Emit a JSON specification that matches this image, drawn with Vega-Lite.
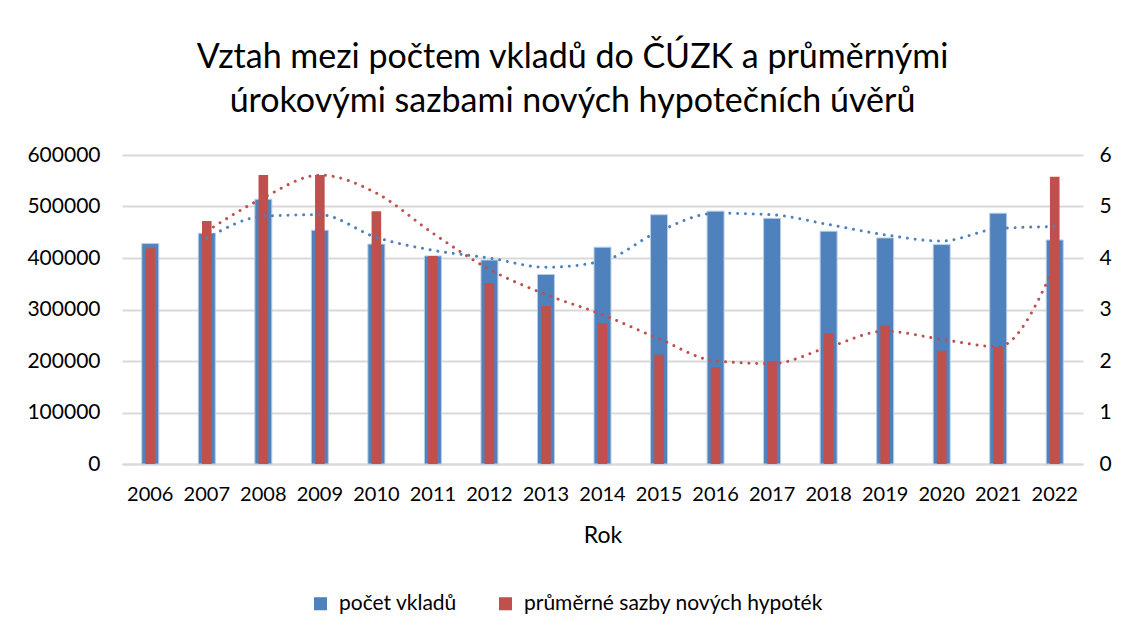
{
  "$schema": "https://vega.github.io/schema/vega-lite/v6.json",
  "width": 961,
  "height": 309,
  "autosize": {"type": "none"},
  "padding": {"left": 122, "top": 155, "right": 38, "bottom": 174},
  "background": "white",
  "config": {
    "font": "Lato",
    "view": {"stroke": null},
    "axis": {"labelFont": "Lato", "titleFont": "Lato", "labelColor": "#000000", "titleColor": "#000000"}
  },
  "title": {
    "text": ["Vztah mezi počtem vkladů do ČÚZK a průměrnými", "úrokovými sazbami nových hypotečních úvěrů"],
    "font": "Lato",
    "fontSize": 34,
    "fontWeight": "normal",
    "color": "#000000",
    "anchor": "middle",
    "dx": -30,
    "lineHeight": 44,
    "offset": 25
  },
  "data": {
    "values": [
      {"rok": "2006", "vklady": 428000, "sazby": 4.19, "tv": null, "ts": null},
      {"rok": "2007", "vklady": 448000, "sazby": 4.72, "tv": 438000, "ts": 4.52},
      {"rok": "2008", "vklady": 514000, "sazby": 5.61, "tv": 481000, "ts": 5.17},
      {"rok": "2009", "vklady": 454000, "sazby": 5.61, "tv": 484000, "ts": 5.61},
      {"rok": "2010", "vklady": 427000, "sazby": 4.91, "tv": 440000, "ts": 5.26},
      {"rok": "2011", "vklady": 404000, "sazby": 4.04, "tv": 415000, "ts": 4.48},
      {"rok": "2012", "vklady": 396000, "sazby": 3.51, "tv": 400000, "ts": 3.78},
      {"rok": "2013", "vklady": 368000, "sazby": 3.07, "tv": 382000, "ts": 3.29},
      {"rok": "2014", "vklady": 421000, "sazby": 2.73, "tv": 394000, "ts": 2.9},
      {"rok": "2015", "vklady": 484000, "sazby": 2.12, "tv": 452000, "ts": 2.43},
      {"rok": "2016", "vklady": 491000, "sazby": 1.88, "tv": 487000, "ts": 2.0},
      {"rok": "2017", "vklady": 477000, "sazby": 2.0, "tv": 484000, "ts": 1.95},
      {"rok": "2018", "vklady": 452000, "sazby": 2.54, "tv": 465000, "ts": 2.27},
      {"rok": "2019", "vklady": 439000, "sazby": 2.69, "tv": 445000, "ts": 2.58},
      {"rok": "2020", "vklady": 426000, "sazby": 2.2, "tv": 433000, "ts": 2.42},
      {"rok": "2021", "vklady": 487000, "sazby": 2.27, "tv": 457000, "ts": 2.28},
      {"rok": "2022", "vklady": 435000, "sazby": 5.58, "tv": 461000, "ts": 3.85}
    ]
  },
  "encoding": {
    "x": {
      "field": "rok",
      "type": "nominal",
      "sort": null,
      "scale": {"paddingInner": 0, "paddingOuter": 0},
      "axis": {
        "title": "Rok",
        "titleFontSize": 23,
        "titleFontWeight": "normal",
        "titlePadding": 20,
        "labelFontSize": 20,
        "labelAngle": 0,
        "labelPadding": 20,
        "ticks": false,
        "domainColor": "#D9D9D9",
        "domainWidth": 2,
        "grid": false
      }
    }
  },
  "layer": [
    {
      "mark": {"type": "bar", "width": {"band": 0.3}, "stroke": "#B9CDE5", "strokeWidth": 1},
      "encoding": {
        "y": {
          "field": "vklady",
          "type": "quantitative",
          "scale": {"domain": [0, 600000], "nice": false},
          "axis": {
            "title": null,
            "orient": "left",
            "values": [0, 100000, 200000, 300000, 400000, 500000, 600000],
            "format": "d",
            "labelFontSize": 21,
            "labelPadding": 22,
            "ticks": false,
            "domain": false,
            "grid": true,
            "gridColor": "#D9D9D9",
            "gridWidth": 2
          }
        },
        "color": {
          "datum": "počet vkladů",
          "type": "nominal",
          "scale": {"domain": ["počet vkladů", "průměrné sazby nových hypoték"], "range": ["#4F81BD", "#C0504D"]},
          "legend": {
            "title": null,
            "orient": "none",
            "legendX": 188,
            "legendY": 438,
            "direction": "horizontal",
            "labelFontSize": 21,
            "labelFont": "Lato",
            "labelColor": "#000000",
            "labelLimit": 0,
            "symbolType": "square",
            "symbolSize": 170,
            "symbolStrokeWidth": 0,
            "columnPadding": 38,
            "labelOffset": 8
          }
        }
      }
    },
    {
      "mark": {"type": "bar", "width": {"band": 0.17}},
      "encoding": {
        "y": {
          "field": "sazby",
          "type": "quantitative",
          "scale": {"domain": [0, 6], "nice": false},
          "axis": {
            "title": null,
            "orient": "right",
            "values": [0, 1, 2, 3, 4, 5, 6],
            "labelFontSize": 21,
            "labelPadding": 16,
            "ticks": false,
            "domain": false,
            "grid": false
          }
        },
        "color": {"datum": "průměrné sazby nových hypoték", "type": "nominal"}
      }
    },
    {
      "mark": {"type": "line", "color": "#4F81BD", "strokeWidth": 3, "strokeCap": "round", "strokeDash": [0.01, 7.8], "interpolate": "monotone"},
      "encoding": {
        "y": {"field": "tv", "type": "quantitative", "scale": {"domain": [0, 600000], "nice": false}, "axis": null}
      }
    },
    {
      "mark": {"type": "line", "color": "#C0504D", "strokeWidth": 3, "strokeCap": "round", "strokeDash": [0.01, 7.8], "interpolate": "monotone"},
      "encoding": {
        "y": {"field": "ts", "type": "quantitative", "scale": {"domain": [0, 6], "nice": false}, "axis": null}
      }
    }
  ],
  "resolve": {"scale": {"y": "independent"}}
}
